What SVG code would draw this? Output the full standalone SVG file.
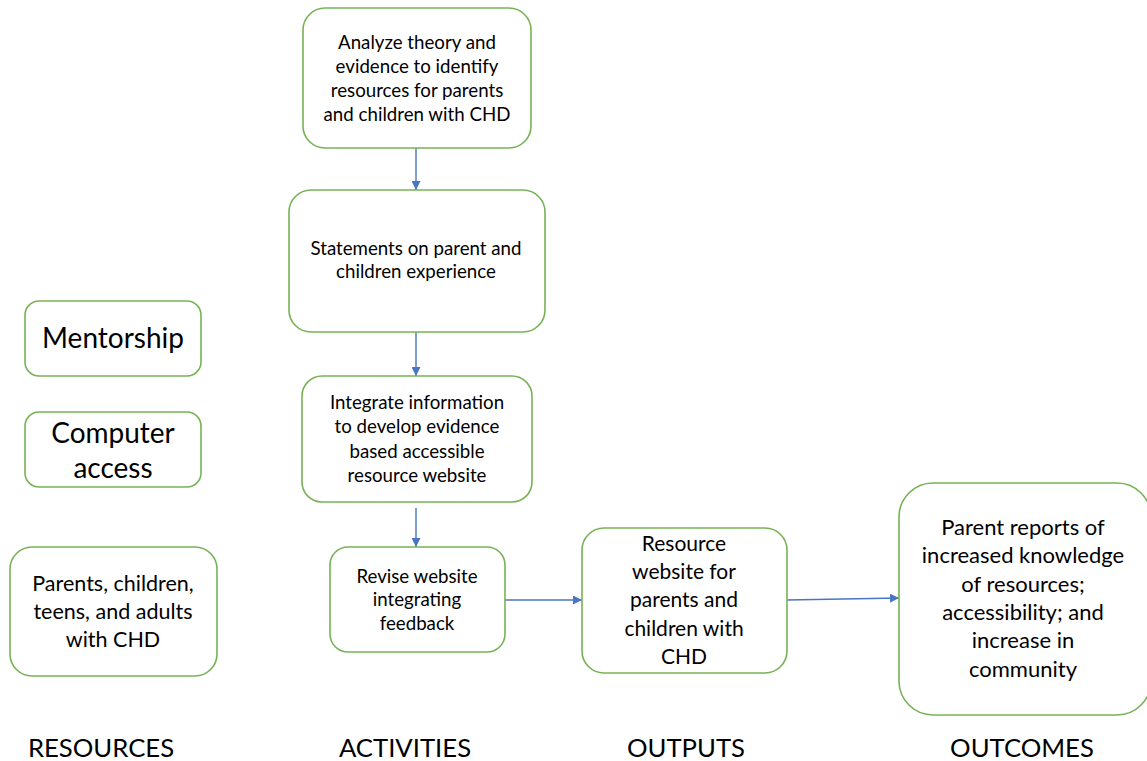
<svg xmlns="http://www.w3.org/2000/svg" width="1147" height="761" viewBox="0 0 1147 761">
<style>
.box{fill:#fff;stroke:#77b255;stroke-width:1.6}
.t{font-family:Lato,"Open Sans","Liberation Sans",sans-serif;fill:#000;text-anchor:middle}
.s17{font-size:18.7px}
.s19{font-size:21px}
.s20{font-size:22px}
.s21{font-size:21.5px}
.s26{font-size:28px}
.lab{font-family:Lato,"Open Sans","Liberation Sans",sans-serif;font-size:25.7px;fill:#000;text-anchor:middle}
.c{stroke:#4a74c4;stroke-width:1.4;fill:none}
</style>
<defs>
<marker id="ah" viewBox="0 0 10 10" refX="10" refY="5" markerWidth="9" markerHeight="9" markerUnits="userSpaceOnUse" orient="auto">
<path d="M0,0L10,5L0,10z" fill="#4a74c4"/>
</marker>
</defs>
<rect width="1147" height="761" fill="#fff"/>
<g id="connectors">
<line class="c" x1="416" y1="148" x2="416" y2="190" marker-end="url(#ah)"/>
<line class="c" x1="416" y1="332" x2="416" y2="376" marker-end="url(#ah)"/>
<line class="c" x1="416" y1="508" x2="416" y2="547" marker-end="url(#ah)"/>
<line class="c" x1="505" y1="600" x2="582" y2="600" marker-end="url(#ah)"/>
<line class="c" x1="787" y1="600" x2="899" y2="598" marker-end="url(#ah)"/>
</g>
<g id="analyze">
<rect class="box" x="303" y="8" width="228" height="140" rx="22"/>
<text class="t s17"><tspan x="417" y="49">Analyze theory and</tspan><tspan x="417" y="73">evidence to identify</tspan><tspan x="417" y="97">resources for parents</tspan><tspan x="417" y="121">and children with CHD</tspan></text>
</g>
<g id="statements">
<rect class="box" x="289" y="190" width="256" height="142" rx="22"/>
<text class="t s17"><tspan x="416" y="255">Statements on parent and</tspan><tspan x="416" y="278">children experience</tspan></text>
</g>
<g id="integrate">
<rect class="box" x="302" y="376" width="230" height="126" rx="20"/>
<text class="t s17"><tspan x="417" y="409">Integrate information</tspan><tspan x="417" y="433">to develop evidence</tspan><tspan x="417" y="458">based accessible</tspan><tspan x="417" y="482">resource  website</tspan></text>
</g>
<g id="revise">
<rect class="box" x="330" y="547" width="175" height="105" rx="18"/>
<text class="t s17"><tspan x="417" y="583">Revise website</tspan><tspan x="417" y="606">integrating</tspan><tspan x="417" y="630">feedback</tspan></text>
</g>
<g id="output">
<rect class="box" x="582" y="528" width="205" height="145" rx="22"/>
<text class="t s19"><tspan x="684" y="551">Resource</tspan><tspan x="684" y="579">website for</tspan><tspan x="684" y="607">parents and</tspan><tspan x="684" y="636">children with</tspan><tspan x="684" y="664">CHD</tspan></text>
</g>
<g id="outcome">
<rect class="box" x="899" y="483" width="252" height="232" rx="34"/>
<text class="t s20"><tspan x="1023" y="535">Parent reports of</tspan><tspan x="1023" y="563">increased knowledge</tspan><tspan x="1023" y="592">of resources;</tspan><tspan x="1023" y="620">accessibility; and</tspan><tspan x="1023" y="648">increase in</tspan><tspan x="1023" y="677">community</tspan></text>
</g>
<g id="mentorship">
<rect class="box" x="25" y="301" width="176" height="75" rx="14"/>
<text class="t s26" x="113" y="348">Mentorship</text>
</g>
<g id="computer">
<rect class="box" x="25" y="412" width="176" height="75" rx="14"/>
<text class="t s26"><tspan x="113" y="443">Computer</tspan><tspan x="113" y="478">access</tspan></text>
</g>
<g id="parents">
<rect class="box" x="10" y="547" width="207" height="129" rx="22"/>
<text class="t s21"><tspan x="113" y="591">Parents, children,</tspan><tspan x="113" y="619">teens, and adults</tspan><tspan x="113" y="647">with CHD</tspan></text>
</g>
<g id="labels">
<text class="lab" x="101" y="757">RESOURCES</text>
<text class="lab" x="405" y="757">ACTIVITIES</text>
<text class="lab" x="686" y="757">OUTPUTS</text>
<text class="lab" x="1022" y="757">OUTCOMES</text>
</g>
</svg>
